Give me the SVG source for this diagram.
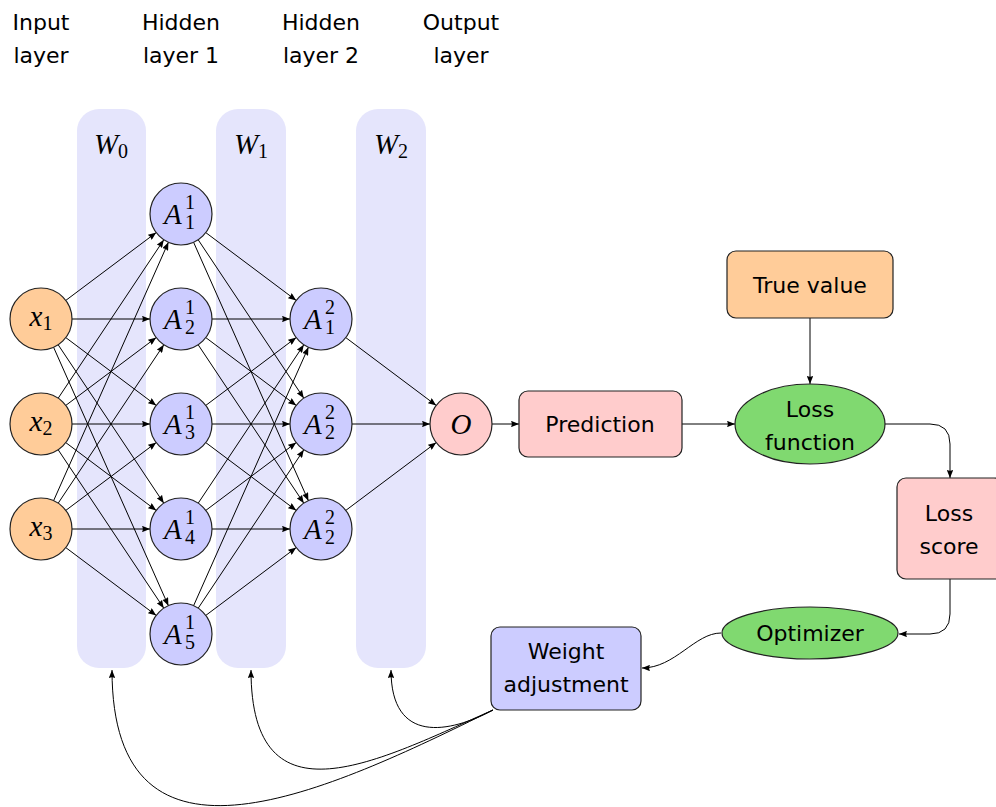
<svg xmlns="http://www.w3.org/2000/svg" width="996" height="807" viewBox="0 0 996 807">
<defs>
<marker id="ah" viewBox="0 0 10 8" refX="10" refY="4" markerWidth="8" markerHeight="6.4" orient="auto" markerUnits="userSpaceOnUse"><path d="M0,0 L10,4 L0,8 Q2,4 0,0 Z" fill="#000"/></marker>
<style>
.col{fill:#e5e5fc}
.lbl{font-family:"DejaVu Sans","Liberation Sans",sans-serif;font-size:22px;fill:#000;text-anchor:middle}
.m{font-family:"Liberation Serif",serif;font-style:italic;font-size:29px;fill:#000}
.ms{font-family:"Liberation Serif",serif;font-style:normal;font-size:20px;fill:#000}
.in{fill:#ffcc99;stroke:#222;stroke-width:1.2}
.hid{fill:#ccccff;stroke:#222;stroke-width:1.2}
.pink{fill:#ffcccc;stroke:#222;stroke-width:1.2}
.grn{fill:#80d970;stroke:#222;stroke-width:1.2}
.edge{stroke:#000;stroke-width:1;fill:none;marker-end:url(#ah)}
</style>
</defs>
<rect width="996" height="807" fill="#fff"/>

<g id="columns">
<rect class="col" x="77" y="109" width="69" height="559" rx="22"/>
<rect class="col" x="216" y="109" width="70" height="559" rx="22"/>
<rect class="col" x="356" y="109" width="70" height="559" rx="22"/>
<text class="m" x="111" y="154" text-anchor="middle">W<tspan class="ms" dy="4">0</tspan></text>
<text class="m" x="251" y="154" text-anchor="middle">W<tspan class="ms" dy="4">1</tspan></text>
<text class="m" x="391" y="154" text-anchor="middle">W<tspan class="ms" dy="4">2</tspan></text>
</g>

<g id="layer-titles">
<text class="lbl" x="41" y="30">Input</text><text class="lbl" x="41" y="63">layer</text>
<text class="lbl" x="181" y="30">Hidden</text><text class="lbl" x="181" y="63">layer 1</text>
<text class="lbl" x="321" y="30">Hidden</text><text class="lbl" x="321" y="63">layer 2</text>
<text class="lbl" x="461" y="30">Output</text><text class="lbl" x="461" y="63">layer</text>
</g>

<g id="connectors">
<line class="edge" x1="65.8" y1="300.4" x2="156.2" y2="232.6"/>
<line class="edge" x1="72" y1="319" x2="150" y2="319"/>
<line class="edge" x1="65.8" y1="337.6" x2="156.2" y2="405.4"/>
<line class="edge" x1="58.2" y1="344.8" x2="163.8" y2="503.2"/>
<line class="edge" x1="53.6" y1="347.3" x2="168.4" y2="605.7"/>
<line class="edge" x1="58.2" y1="398.2" x2="163.8" y2="239.8"/>
<line class="edge" x1="65.8" y1="405.4" x2="156.2" y2="337.6"/>
<line class="edge" x1="72" y1="424" x2="150" y2="424"/>
<line class="edge" x1="65.8" y1="442.6" x2="156.2" y2="510.4"/>
<line class="edge" x1="58.2" y1="449.8" x2="163.8" y2="608.2"/>
<line class="edge" x1="53.6" y1="500.7" x2="168.4" y2="242.3"/>
<line class="edge" x1="58.2" y1="503.2" x2="163.8" y2="344.8"/>
<line class="edge" x1="65.8" y1="510.4" x2="156.2" y2="442.6"/>
<line class="edge" x1="72" y1="529" x2="150" y2="529"/>
<line class="edge" x1="65.8" y1="547.6" x2="156.2" y2="615.4"/>

<line class="edge" x1="205.8" y1="232.6" x2="296.2" y2="300.4"/>
<line class="edge" x1="198.2" y1="239.8" x2="303.8" y2="398.2"/>
<line class="edge" x1="193.6" y1="242.3" x2="308.4" y2="500.7"/>
<line class="edge" x1="212" y1="319" x2="290" y2="319"/>
<line class="edge" x1="205.8" y1="337.6" x2="296.2" y2="405.4"/>
<line class="edge" x1="198.2" y1="344.8" x2="303.8" y2="503.2"/>
<line class="edge" x1="205.8" y1="405.4" x2="296.2" y2="337.6"/>
<line class="edge" x1="212" y1="424" x2="290" y2="424"/>
<line class="edge" x1="205.8" y1="442.6" x2="296.2" y2="510.4"/>
<line class="edge" x1="198.2" y1="503.2" x2="303.8" y2="344.8"/>
<line class="edge" x1="205.8" y1="510.4" x2="296.2" y2="442.6"/>
<line class="edge" x1="212" y1="529" x2="290" y2="529"/>
<line class="edge" x1="193.6" y1="605.7" x2="308.4" y2="347.3"/>
<line class="edge" x1="198.2" y1="608.2" x2="303.8" y2="449.8"/>
<line class="edge" x1="205.8" y1="615.4" x2="296.2" y2="547.6"/>

<line class="edge" x1="345.8" y1="337.6" x2="436.2" y2="405.4"/>
<line class="edge" x1="352" y1="424" x2="430" y2="424"/>
<line class="edge" x1="345.8" y1="510.4" x2="436.2" y2="442.6"/>

<line class="edge" x1="492" y1="424" x2="519" y2="424"/>
<line class="edge" x1="682" y1="424" x2="735" y2="424"/>
<line class="edge" x1="810" y1="318" x2="810" y2="384"/>
<path class="edge" d="M885,424 L930,424 Q950,424 950,444 L950,478"/>
<path class="edge" d="M950,579 L950,614 Q950,634 930,634 L899,634"/>
<path class="edge" d="M721,633 C695,633 675,668 642,668"/>
<path class="edge" d="M493,710 C450,733 391,745 391,670"/>
<path class="edge" d="M493,710 C380,760 251,830 251,670"/>
<path class="edge" d="M493,710 C330,790 112,895 112,670"/>
</g>

<g id="x1"><circle class="in" cx="41" cy="319" r="31"/><text class="m" x="41" y="326" text-anchor="middle">x<tspan class="ms" dy="4">1</tspan></text></g>
<g id="x2"><circle class="in" cx="41" cy="424" r="31"/><text class="m" x="41" y="431" text-anchor="middle">x<tspan class="ms" dy="4">2</tspan></text></g>
<g id="x3"><circle class="in" cx="41" cy="529" r="31"/><text class="m" x="41" y="536" text-anchor="middle">x<tspan class="ms" dy="4">3</tspan></text></g>

<g id="h1-1"><circle class="hid" cx="181" cy="214" r="31"/><text class="m" x="164" y="224">A</text><text class="ms" x="185" y="209">1</text><text class="ms" x="185" y="229">1</text></g>
<g id="h1-2"><circle class="hid" cx="181" cy="319" r="31"/><text class="m" x="164" y="329">A</text><text class="ms" x="185" y="314">1</text><text class="ms" x="185" y="334">2</text></g>
<g id="h1-3"><circle class="hid" cx="181" cy="424" r="31"/><text class="m" x="164" y="434">A</text><text class="ms" x="185" y="419">1</text><text class="ms" x="185" y="439">3</text></g>
<g id="h1-4"><circle class="hid" cx="181" cy="529" r="31"/><text class="m" x="164" y="539">A</text><text class="ms" x="185" y="524">1</text><text class="ms" x="185" y="544">4</text></g>
<g id="h1-5"><circle class="hid" cx="181" cy="634" r="31"/><text class="m" x="164" y="644">A</text><text class="ms" x="185" y="629">1</text><text class="ms" x="185" y="649">5</text></g>

<g id="h2-1"><circle class="hid" cx="321" cy="319" r="31"/><text class="m" x="304" y="329">A</text><text class="ms" x="325" y="314">2</text><text class="ms" x="325" y="334">1</text></g>
<g id="h2-2"><circle class="hid" cx="321" cy="424" r="31"/><text class="m" x="304" y="434">A</text><text class="ms" x="325" y="419">2</text><text class="ms" x="325" y="439">2</text></g>
<g id="h2-3"><circle class="hid" cx="321" cy="529" r="31"/><text class="m" x="304" y="539">A</text><text class="ms" x="325" y="524">2</text><text class="ms" x="325" y="544">2</text></g>

<g id="output"><circle class="pink" cx="461" cy="424" r="31"/><text class="m" x="461" y="434" text-anchor="middle">O</text></g>

<g id="prediction"><rect class="pink" x="519" y="391" width="163" height="66" rx="9"/><text class="lbl" x="600" y="432">Prediction</text></g>
<g id="true-value"><rect class="in" x="727" y="251" width="166" height="67" rx="9"/><text class="lbl" x="810" y="293">True value</text></g>
<g id="loss-function"><ellipse class="grn" cx="810" cy="424" rx="75" ry="40"/><text class="lbl" x="810" y="417">Loss</text><text class="lbl" x="810" y="450">function</text></g>
<g id="loss-score"><rect class="pink" x="897" y="478" width="106" height="101" rx="9"/><text class="lbl" x="949" y="521">Loss</text><text class="lbl" x="949" y="554">score</text></g>
<g id="optimizer"><ellipse class="grn" cx="810" cy="633" rx="88" ry="26"/><text class="lbl" x="810" y="641">Optimizer</text></g>
<g id="weight-adjustment"><rect class="hid" x="491" y="627" width="150" height="83" rx="9"/><text class="lbl" x="566" y="659">Weight</text><text class="lbl" x="566" y="692">adjustment</text></g>
</svg>
